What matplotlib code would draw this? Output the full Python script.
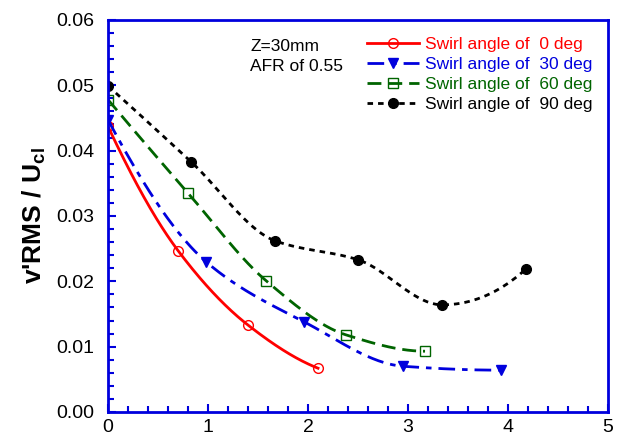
import numpy as np
import matplotlib
matplotlib.use('Agg')
import matplotlib.pyplot as plt
from matplotlib.ticker import MultipleLocator, FormatStrFormatter

plt.rcParams['font.family'] = ['Liberation Sans', 'DejaVu Sans']
plt.rcParams['mathtext.fontset'] = 'custom'
plt.rcParams['mathtext.bf'] = 'Liberation Sans:bold'

### data
x_0 = [0.0, 0.70, 1.40, 2.10]
y_0 = [0.0437, 0.0247, 0.0133, 0.0067]
x_30 = [0.0, 0.98, 1.96, 2.95, 3.93]
y_30 = [0.0447, 0.0230, 0.0138, 0.0070, 0.0064]
x_60 = [0.0, 0.80, 1.58, 2.38, 3.17]
y_60 = [0.0478, 0.0335, 0.0201, 0.0118, 0.0093]
x_90 = [0.0, 0.83, 1.67, 2.50, 3.34, 4.18]
y_90 = [0.0499, 0.0383, 0.0262, 0.0233, 0.0164, 0.0219]
labels = ['Swirl angle of  0 deg', 'Swirl angle of  30 deg',
          'Swirl angle of  60 deg', 'Swirl angle of  90 deg']


def smooth(x, y, n=200):
    # shape preserving cubic (pchip) through the markers, only for drawing
    x = np.asarray(x, float); y = np.asarray(y, float)
    h = np.diff(x); dl = np.diff(y) / h
    m = len(x); d = np.zeros(m)
    for i in range(1, m - 1):
        if dl[i-1] * dl[i] > 0:
            w1 = 2*h[i] + h[i-1]; w2 = h[i] + 2*h[i-1]
            d[i] = (w1 + w2) / (w1/dl[i-1] + w2/dl[i])
    d[0] = ((2*h[0] + h[1])*dl[0] - h[0]*dl[1]) / (h[0] + h[1])
    if d[0]*dl[0] <= 0: d[0] = 0
    d[-1] = ((2*h[-1] + h[-2])*dl[-1] - h[-1]*dl[-2]) / (h[-1] + h[-2])
    if d[-1]*dl[-1] <= 0: d[-1] = 0
    xs = np.linspace(x[0], x[-1], n)
    k = np.clip(np.searchsorted(x, xs) - 1, 0, m - 2)
    t = (xs - x[k]) / h[k]
    h00 = 2*t**3 - 3*t**2 + 1; h10 = t**3 - 2*t**2 + t
    h01 = -2*t**3 + 3*t**2; h11 = t**3 - t**2
    return xs, h00*y[k] + h10*h[k]*d[k] + h01*y[k+1] + h11*h[k]*d[k+1]


fig = plt.figure(figsize=(6.29, 4.42), dpi=100)
ax = fig.add_axes([0.1717, 0.0679, 0.795, 0.887])

series = [(x_0, y_0, 'red', '-', 'o', 'none'),
          (x_30, y_30, '#0000dd', (0, (6, 2.5, 2, 2.5)), 'v', '#0000dd'),
          (x_60, y_60, '#006400', (0, (5, 2.5)), 's', 'none'),
          (x_90, y_90, 'black', (0, (2, 1.8)), 'o', 'black')]
for (x, y, c, ls, mk, mf), lab in zip(series, labels):
    xs, ys = smooth(x, y)
    ax.plot(xs, ys, color=c, ls=ls, lw=2)
    ax.plot(x, y, ls='none', marker=mk, ms=7, mfc=mf, mec=c, mew=1)
    ax.plot([], [], color=c, ls=ls, lw=2, marker=mk, ms=7, mfc=mf, mec=c, mew=1, label=lab)

leg = ax.legend(loc='upper left', bbox_to_anchor=(0.518, 0.957), frameon=False, fontsize=12.5,
                handlelength=3.0, handletextpad=0.35, labelspacing=0.28,
                borderaxespad=0, borderpad=0)
for t, (_, _, c, _, _, _) in zip(leg.get_texts(), series):
    t.set_color(c)
ax.text(0.284, 0.952, 'Z=30mm\nAFR of 0.55', transform=ax.transAxes, fontsize=12.5,
        va='top', ha='left', linespacing=1.45)

ax.set_xlim(0, 5)
ax.set_ylim(0, 0.06)
ax.xaxis.set_major_locator(MultipleLocator(1))
ax.xaxis.set_minor_locator(MultipleLocator(0.2))
ax.yaxis.set_major_locator(MultipleLocator(0.01))
ax.yaxis.set_minor_locator(MultipleLocator(0.002))
ax.yaxis.set_major_formatter(FormatStrFormatter('%.2f'))
ax.tick_params(which='both', direction='in', color='#0000dd', labelsize=14, top=False, right=False)
ax.tick_params(which='major', length=6, width=1.5)
ax.tick_params(axis='y', which='major', pad=10)
ax.tick_params(axis='x', which='major', pad=5)
ax.tick_params(which='minor', length=4, width=1.5)
for s in ax.spines.values():
    s.set_color('#0000dd'); s.set_linewidth(2)
ax.set_ylabel("v'RMS / U$_{\\mathbf{cl}}$", fontsize=19, fontweight='bold', labelpad=6)

fig.savefig('out.png', dpi=100)
